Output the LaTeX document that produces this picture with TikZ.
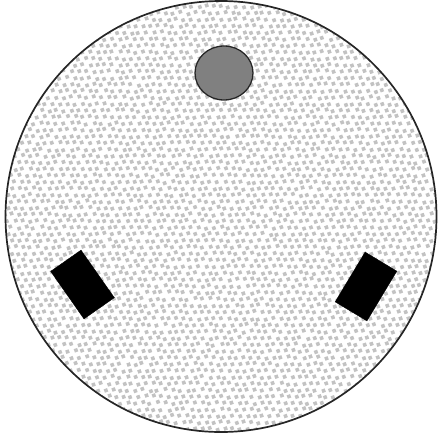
\documentclass[tikz,border=0pt]{standalone}
\usepackage{tikz}
\usetikzlibrary{shapes.geometric}

\begin{document}
\begin{tikzpicture}[x=1pt, y=-1pt,
    disc/.style={draw=black!85, line width=1.7pt},
    speck/.style={fill=black!24},
    pin/.style={ellipse, draw=black!85, line width=1.3pt, fill=black!50, minimum width=58pt, minimum height=54pt, inner sep=0pt},
    blade/.style={rectangle, fill=black, draw=black, minimum width=37pt, minimum height=58pt, inner sep=0pt}
]
\useasboundingbox (0,0) rectangle (441,432);
\coordinate (c) at (221,216.5);
% dotted face
\pgfmathsetseed{7}
\begin{scope}
\clip (c) circle (215);
\foreach \r in {0,...,67}
  \foreach \k in {0,...,59} {
    \pgfmathsetmacro{\px}{\k*7.5+mod(\r,2)*3.75+rand*1.2}
    \pgfmathsetmacro{\py}{\r*6.5+rand*1.2}
    \fill[speck, rotate around={20:(\px,\py)}] (\px-1.8,\py-1.8) rectangle ++(3.6,3.6);
  }
\end{scope}
\draw[disc] (c) circle (215.5);
% earth pin and the two flat pins
\node[pin] (earth) at (224,73) {};
\node[blade, rotate=35] (left) at (82.5,284.5) {};
\node[blade, rotate=-31] (right) at (366,286.5) {};
\end{tikzpicture}
\end{document}
